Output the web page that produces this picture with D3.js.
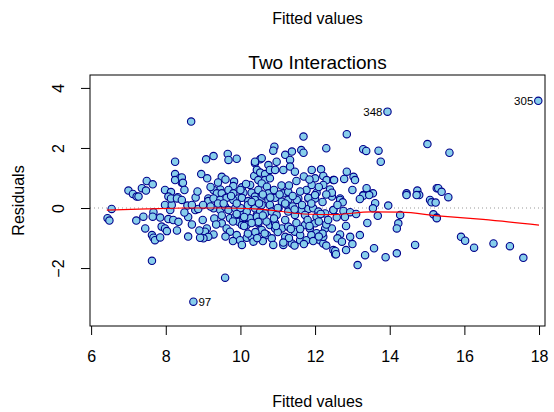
<!DOCTYPE html>
<html>
<head>
<meta charset="utf-8">
<script src="https://cdn.jsdelivr.net/npm/d3@7"></script>
<style>
  body { margin: 0; background: #fff; }
  text { font-family: "Liberation Sans", Arial, sans-serif; fill: #000; }
</style>
</head>
<body>
<div id="painting"></div>
<script>
// fitted values and residuals
var fitted = [
  8.25,8.25,8.38,8.43,8.25,7.49,7.65,7.36,7.47,7.0,7.12,7.22,7.98,8.14,8.07,8.32,
  6.55,6.44,6.49,7.21,7.4,7.45,7.63,7.67,7.71,7.85,7.63,7.67,7.65,7.85,7.89,7.98,8.03,7.98,8.12,8.16,8.14,8.07,8.2,8.34,8.3,8.43,7.27,
  8.68,9.08,9.28,9.66,9.68,9.9,10.39,10.53,8.95,9.11,9.5,8.43,8.46,10.37,10.48,9.83,10.04,10.26,9.81,9.46,9.28,9.37,9.5,9.68,9.81,10.08,10.3,10.53,9.14,9.59,9.95,
  9.14,9.28,9.46,9.63,9.81,10.04,10.21,10.39,8.58,8.79,8.87,8.99,9.28,9.46,9.59,9.68,9.86,9.1,9.05,9.28,9.14,9.01,8.92,9.5,9.63,9.72,9.9,9.99,10.04,10.17,10.3,10.35,9.72,9.86,9.95,10.04,10.08,10.04,10.17,10.26,10.17,10.44,10.48,10.53,9.59,8.74,
  11.69,12.3,10.91,10.88,11.2,11.38,11.63,11.69,10.57,10.39,10.75,10.97,11.33,11.15,11.33,11.46,11.91,12.16,12.22,12.31,12.49,12.0,10.44,10.53,10.66,10.79,10.93,10.66,10.79,10.57,10.71,10.48,10.75,11.15,11.28,11.55,11.77,11.91,12.04,12.22,12.4,11.82,12.0,12.45,
  10.39,10.57,10.75,10.93,11.11,11.28,11.51,11.82,12.0,10.39,10.53,10.57,10.79,10.66,10.84,11.02,10.97,11.24,11.28,11.46,11.64,11.82,11.95,12.09,12.27,12.49,11.73,12.04,10.44,10.48,10.57,10.71,10.84,10.79,10.93,10.93,11.11,11.28,11.46,11.2,11.15,10.88,11.38,11.6,11.77,11.73,11.86,12.0,12.04,12.13,12.22,12.22,12.27,12.45,12.49,12.54,
  13.94,12.85,15.01,13.29,13.37,13.7,13.76,12.85,12.78,13.03,13.07,12.51,13.38,13.55,13.29,12.45,12.67,14.45,14.74,14.79,15.26,15.08,
  12.67,12.74,13.29,13.45,13.96,14.45,14.72,15.12,15.17,15.26,13.61,13.55,13.68,14.28,14.23,14.19,12.49,12.76,12.94,12.58,12.83,12.67,12.6,12.72,12.94,12.83,12.54,12.56,13.14,13.34,13.58,13.89,14.19,14.68,
  17.98,15.6,15.3,15.39,15.57,15.23,15.26,15.91,16.02,16.26,16.78,17.22,17.58,
  10.6,10.9,11.1,11.4,11.6,10.2,10.5,10.9,11.2,11.5,11.8,12.1,12.3,10.7,11.0,11.3,11.6,11.9,12.2,10.1,10.3,10.0,9.9,9.4,9.2,9.0,8.8,8.6,8.7,8.9,9.3,9.5,9.8,10.6,11.0,11.4,11.9,12.2,12.6,12.8,
  9.2,9.4,9.6,9.75,10.0,10.15,10.3,9.55,9.9,10.1,10.2,9.35,9.6,9.8,10.4,10.6,
  10.8,11.05,11.3,11.5,11.7,11.85,12.1,12.3,11.2,11.45,11.65,12.15,12.35,10.95,11.15,11.45,11.7,11.95,12.3,12.1,11.35,11.6,11.85,10.65,10.45,
  13.0,13.2,13.1,13.4,13.2,13.0,
  8.5,8.7,8.5,8.3,8.6,8.85
];
var residuals = [
  1.54,1.13,1.0,0.84,0.93,0.9,0.79,0.66,0.58,0.58,0.47,0.38,0.6,0.53,0.38,0.36,
  -0.03,-0.34,-0.42,-0.42,-0.29,-0.68,-0.9,-0.99,-1.07,-0.98,-1.76,-0.14,-0.29,-0.32,-0.62,-0.68,-0.77,0.1,-0.07,0.1,0.32,-0.37,-0.4,-0.46,0.32,0.27,0.38,
  2.88,1.62,1.73,1.8,1.6,1.64,1.49,1.62,1.13,0.99,1.04,1.02,0.84,1.07,0.93,0.88,0.69,0.77,0.73,0.62,0.6,0.49,0.49,0.6,0.49,0.51,0.51,0.47,0.32,0.32,0.32,
  0.23,0.32,0.27,0.34,0.27,0.34,0.23,0.38,0.08,-0.07,-0.03,-0.4,-0.01,-0.07,0.04,-0.07,-0.01,-0.68,-0.79,-0.88,-0.96,-1.01,-0.99,-0.51,-0.68,-0.79,-0.9,-1.07,-1.23,-0.99,-0.96,-1.12,-0.34,-0.29,-0.46,-0.23,-0.4,-0.57,-0.57,-0.34,-0.12,-0.23,-0.51,-0.73,-2.32,-3.12,
  2.38,1.99,2.04,1.91,1.77,1.88,1.93,1.84,1.66,1.54,1.43,1.54,1.6,1.27,1.38,1.21,1.27,1.29,1.07,0.93,0.93,0.99,1.27,1.18,1.13,1.27,1.27,0.93,0.99,0.82,0.71,0.6,0.49,0.49,0.54,0.32,0.6,0.77,0.51,0.77,0.62,0.32,0.32,0.38,
  0.27,0.38,0.27,0.34,0.21,0.27,0.27,0.34,0.43,-0.01,-0.12,0.1,0.1,-0.18,-0.12,-0.01,-0.23,0.1,-0.12,-0.23,-0.07,-0.03,-0.01,-0.12,-0.18,-0.07,-0.23,-0.29,-0.29,-0.46,-0.73,-0.9,-1.01,-0.57,-0.51,-0.68,-0.68,-0.62,-0.79,-0.96,-1.23,-1.23,-1.18,-1.07,-1.07,-0.57,-0.68,-0.51,-0.84,-1.07,-1.18,-0.96,-0.68,-0.68,-1.4,-1.54,
  3.21,2.46,2.13,1.96,1.9,1.91,1.54,1.21,0.97,1.04,0.93,0.93,0.66,0.49,0.43,0.51,0.32,0.49,0.58,0.43,0.66,0.27,
  0.27,0.19,0.41,0.43,0.08,0.43,0.43,0.19,-0.21,-0.32,0.16,-0.01,-0.26,-0.23,-0.51,-0.68,-0.07,-0.1,-0.14,-0.31,-0.6,-0.88,-1.01,-1.12,-0.96,-1.4,-1.43,-1.54,-1.9,-1.57,-1.34,-1.64,-1.51,-1.23,
  3.57,1.84,0.66,0.54,0.36,0.18,-0.34,-0.96,-1.09,-1.32,-1.18,-1.27,-1.66,
  0.45,0.6,0.75,0.4,0.55,0.1,0.15,-0.35,-0.4,-0.5,-0.4,-0.45,-0.55,-0.45,-0.8,-1.0,-0.9,-0.9,-0.85,-0.3,-0.5,0.0,0.15,0.15,0.05,0.1,0.35,-0.3,-0.55,-0.75,-0.35,-0.25,-0.45,-0.25,0.0,0.05,0.15,0.2,0.1,-0.3,
  0.7,0.85,0.95,0.4,0.6,0.8,0.2,0.15,-0.2,-0.6,-0.85,-0.55,-0.95,-1.1,-0.8,-1.1,
  0.35,0.45,0.75,0.9,1.05,0.95,0.7,0.45,0.15,-0.05,0.1,-0.2,-0.4,-0.6,-1.15,-1.25,-1.2,-1.1,-1.25,-0.95,-0.7,-0.7,-0.6,-0.85,-1.0,
  0.6,0.3,-0.2,-0.5,-0.9,-1.2,
  0.6,0.1,-0.15,-0.75,-0.95,0.55
];

// lowess smooth (red line)
var smoothX = [6.42, 7.5, 8.5, 9.5, 10.4, 11.0, 11.7, 12.5, 13.5, 14.3, 15.3, 16.5, 18.0];
var smoothY = [-0.07, -0.03, 0.0, 0.0, -0.03, -0.1, -0.2, -0.22, -0.13, -0.14, -0.26, -0.38, -0.57];

var xTicks = [6, 8, 10, 12, 14, 16, 18];
var yTicks = [-2, 0, 2, 4];

var pointLabels = ["97", "348", "305"];
var labelX = [8.74, 13.94, 17.98];
var labelY = [-3.12, 3.21, 3.57];
var labelSide = ["right", "left", "left"];

var w = 554, h = 412;
var box = {left: 90, right: 545, top: 75, bottom: 326};

var xScale = d3.scaleLinear().domain([5.97, 18.16]).range([box.left, box.right]);
var yScale = d3.scaleLinear().domain([-3.93, 4.43]).range([box.bottom, box.top]);

var svg = d3.select("#painting")
  .append("svg")
  .attr("width", w)
  .attr("height", h);

svg.append("rect").attr("width", w).attr("height", h).attr("fill", "#fff");

// zero line
svg.append("line")
  .attr("x1", box.left).attr("x2", box.right)
  .attr("y1", yScale(0)).attr("y2", yScale(0))
  .attr("stroke", "#999").attr("stroke-width", 1)
  .attr("stroke-dasharray", "1,3");

var pts = d3.range(fitted.length).map(function(i) { return {x: fitted[i], y: residuals[i]}; });

svg.append("g").selectAll("circle")
  .data(pts)
  .enter()
  .append("circle")
  .attr("cx", function(d) { return xScale(d.x); })
  .attr("cy", function(d) { return yScale(d.y); })
  .attr("r", 3.7)
  .attr("fill", "#87CEEB")
  .attr("stroke", "#00008B")
  .attr("stroke-width", 1.1);

var line = d3.line()
  .x(function(d) { return xScale(d[0]); })
  .y(function(d) { return yScale(d[1]); })
  .curve(d3.curveMonotoneX);

svg.append("path")
  .datum(smoothX.map(function(x, i) { return [x, smoothY[i]]; }))
  .attr("d", line)
  .attr("fill", "none")
  .attr("stroke", "#FF0000")
  .attr("stroke-width", 1.2);

// id labels
svg.append("g").selectAll("text")
  .data(pointLabels)
  .enter()
  .append("text")
  .attr("x", function(d, i) { return xScale(labelX[i]) + (labelSide[i] == "right" ? 5 : -5); })
  .attr("y", function(d, i) { return yScale(labelY[i]) + 4; })
  .attr("text-anchor", function(d, i) { return labelSide[i] == "right" ? "start" : "end"; })
  .style("font-size", "11.5px")
  .text(function(d) { return d; });

// box
svg.append("rect")
  .attr("x", box.left).attr("y", box.top)
  .attr("width", box.right - box.left).attr("height", box.bottom - box.top)
  .attr("fill", "none").attr("stroke", "#000").attr("stroke-width", 1);

// axes
var xAxis = svg.append("g")
  .attr("transform", "translate(0," + box.bottom + ")")
  .call(d3.axisBottom(xScale).tickValues(xTicks).tickSize(9).tickSizeOuter(0));
xAxis.select(".domain").remove();
xAxis.selectAll("text").attr("y", 36).attr("dy", 0).style("font-size", "16px").style("font-family", "Liberation Sans, Arial, sans-serif");
xAxis.selectAll("line").attr("stroke", "#000");

var yAxis = svg.append("g")
  .attr("transform", "translate(" + box.left + ",0)")
  .call(d3.axisLeft(yScale).tickValues(yTicks).tickSize(9).tickSizeOuter(0).tickFormat(function(d) { return d < 0 ? "\u2212" + Math.abs(d) : d; }));
yAxis.select(".domain").remove();
yAxis.selectAll("text")
  .attr("x", null).attr("dy", null)
  .attr("transform", "translate(-26,0) rotate(-90)")
  .attr("text-anchor", "middle")
  .style("font-size", "16px").style("font-family", "Liberation Sans, Arial, sans-serif");
yAxis.selectAll("line").attr("stroke", "#000");

// titles
var cx = (box.left + box.right) / 2;
svg.append("text").attr("x", cx).attr("y", 24).attr("text-anchor", "middle")
  .style("font-size", "16px").text("Fitted values");
svg.append("text").attr("x", cx).attr("y", 69).attr("text-anchor", "middle")
  .style("font-size", "19px").text("Two Interactions");
svg.append("text").attr("x", cx).attr("y", 407).attr("text-anchor", "middle")
  .style("font-size", "16px").text("Fitted values");
svg.append("text")
  .attr("transform", "translate(24," + ((box.top + box.bottom) / 2) + ") rotate(-90)")
  .attr("text-anchor", "middle")
  .style("font-size", "16px").text("Residuals");
</script>
</body>
</html>
